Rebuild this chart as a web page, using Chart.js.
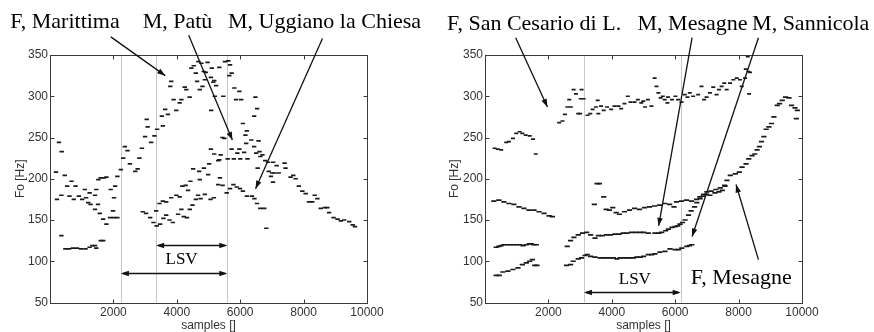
<!DOCTYPE html>
<html>
<head>
<meta charset="utf-8">
<script src="https://cdn.jsdelivr.net/npm/chart.js@4"></script>
<style>
  body { margin: 0; background: #fff; }
  #wrap { position: relative; width: 874px; height: 332px; }
  canvas { position: absolute; top: 0; }
</style>
</head>
<body>
<div id="wrap">
  <canvas id="leftChart" width="437" height="332" style="left:0"></canvas>
  <canvas id="rightChart" width="437" height="332" style="left:437px"></canvas>
</div>
<script>
// F0 tracks, [sample, Hz] per pitch frame

// left panel: Marittima / Patù / Uggiano la Chiesa
const marittima = [
  [283, 244], [369, 233], [2310, 225], [2360, 239], [2445, 234], [2520, 218], [2820, 225], [2900, 237],
  [3000, 251], [3050, 272], [3080, 263], [3190, 244], [3295, 252], [3380, 260], [3530, 276], [3560, 264],
  [3635, 284], [3720, 278], [3795, 312], [3825, 318], [3900, 296], [3985, 283], [4090, 292], [4145, 296],
  [4250, 311], [4300, 308], [4405, 299], [4460, 334], [4535, 337], [4600, 328], [4640, 318], [4680, 342],
  [4725, 308], [4775, 340], [4810, 312], [4850, 330], [4885, 320], [4915, 329], [4970, 341], [5075, 323],
  [5085, 283], [5105, 334], [5150, 317], [5180, 319], [5200, 300], [5240, 313], [5340, 335], [5467, 300],
  [5520, 342], [5625, 343], [5657, 325], [5680, 338], [5730, 328], [5816, 310], [5870, 296], [5975, 306],
  [6030, 296], [6085, 267], [6165, 253], [6210, 258], [6350, 247], [6440, 276], [6480, 299], [6535, 285]
];
const patu = [
  [190, 208], [220, 175], [360, 180], [465, 204], [540, 191], [615, 179], [680, 197], [750, 175],
  [805, 191], [910, 179], [1015, 175], [1100, 187], [1140, 177], [1205, 171], [1250, 183], [1280, 169],
  [1420, 180], [1460, 187], [1420, 163], [1515, 169], [1570, 158], [1525, 199], [1600, 201], [1705, 201],
  [1780, 202], [1915, 187], [2020, 177], [2055, 191], [2125, 203], [2235, 211], [2690, 209], [2765, 212],
  [3455, 170], [3560, 173], [3665, 172], [3825, 177], [3985, 180], [4090, 178], [4175, 191], [4280, 192],
  [4355, 186], [4430, 197], [4515, 212], [4600, 175], [4670, 180], [4705, 209], [4725, 199], [4750, 176],
  [4855, 213], [4885, 181], [4990, 205], [5020, 218], [5075, 236], [5180, 230], [5305, 222], [5340, 223],
  [5385, 229], [5440, 250], [5500, 249], [5605, 224], [5730, 236], [5800, 224], [5910, 231], [5975, 236],
  [6000, 224], [6125, 232], [6190, 243], [6230, 224], [6440, 239], [6505, 231], [6580, 246], [6610, 233],
  [6635, 227], [6700, 229], [6790, 222], [6880, 220], [7040, 220], [7150, 216], [7400, 219]
];
const uggiano = [
  [360, 131], [485, 115], [600, 115], [720, 116], [850, 116], [980, 115], [1120, 115], [1250, 117],
  [1335, 119], [1420, 119], [1460, 116], [1600, 125], [1680, 125], [1675, 151], [1780, 145], [1895, 153],
  [1990, 161], [2020, 153], [2125, 153], [2925, 160], [3030, 158], [3160, 153], [3265, 147], [3350, 161],
  [3365, 143], [3475, 145], [3580, 152], [3665, 156], [3770, 150], [3875, 147], [4040, 157], [4145, 163],
  [4220, 154], [4320, 153], [4410, 163], [4495, 168], [5065, 175], [5170, 177], [5305, 193], [5360, 201],
  [5445, 192], [5575, 183], [5680, 188], [5785, 193], [5890, 190], [5995, 188], [6085, 185], [6210, 179],
  [6370, 179], [6450, 176], [6530, 170], [6550, 213], [6635, 164], [6760, 164], [6825, 140], [6900, 209],
  [6970, 203], [7005, 207], [7035, 196], [7080, 207], [7215, 207], [7430, 213], [7590, 202], [7675, 204],
  [7750, 200], [7850, 191], [7960, 185], [8065, 182], [8170, 172], [8275, 172], [8350, 180], [8435, 176],
  [8540, 164], [8670, 165], [8750, 165], [8805, 159], [8945, 153], [9070, 151], [9175, 149], [9280, 150],
  [9440, 148], [9550, 144], [9620, 142]
];

// right panel: San Cesario di L. / Mesagne (F, M) / Sannicola
const sanCesario = [
  [300, 237], [400, 236], [511, 235], [670, 244], [755, 245], [881, 249], [987, 255], [1093, 257],
  [1177, 255], [1284, 253], [1410, 252], [1515, 248], [1601, 230], [2340, 268], [2445, 270], [2520, 278],
  [2600, 287], [2657, 296], [2710, 287], [2795, 308], [2870, 303], [2940, 279], [3000, 279], [3020, 297],
  [3047, 308], [3110, 297], [3237, 277], [3322, 279], [3395, 284], [3500, 287], [3555, 295], [3575, 279],
  [3660, 288], [3745, 283], [3850, 287], [3980, 284], [4085, 288], [4210, 288], [4295, 285], [4400, 291],
  [4505, 300], [4590, 293], [4717, 293], [4822, 296], [4930, 292], [4993, 294], [5050, 287], [5139, 296],
  [5250, 288], [5350, 322], [5410, 312], [5470, 304], [5540, 298], [5610, 300], [5668, 296], [5754, 292],
  [5773, 299], [5900, 296], [6007, 300], [6090, 296], [6198, 293], [6302, 302], [6387, 299], [6460, 304],
  [6565, 300], [6724, 302], [6831, 312], [6914, 296], [6990, 299], [7095, 304], [7200, 311], [7306, 302],
  [7380, 308], [7465, 312], [7548, 316], [7624, 308], [7730, 316], [7833, 320], [7941, 322], [8045, 320],
  [8100, 312], [8204, 322], [8226, 333], [8290, 348], [8309, 330], [8331, 303], [8362, 329]
];
const mesagneF = [
  [279, 173], [437, 174], [596, 172], [755, 170], [913, 169], [1072, 166], [1230, 164], [1388, 162],
  [1547, 162], [1706, 160], [1864, 158], [2022, 155], [2128, 154], [3449, 169], [3534, 194], [3610, 194],
  [3745, 178], [3820, 163], [3925, 162], [4030, 165], [4137, 159], [4242, 157], [4400, 160], [4558, 162],
  [4717, 164], [4875, 163], [5034, 165], [5193, 166], [5351, 167], [5510, 168], [5668, 170], [5826, 169],
  [5963, 166], [6040, 172], [6198, 173], [6357, 174], [6515, 173], [6673, 175], [6778, 178], [6883, 179],
  [6990, 181], [7095, 180], [7253, 183], [7380, 184], [7485, 186], [7570, 191], [7633, 198], [7738, 204],
  [7896, 206], [8023, 208], [8109, 214], [8236, 218], [8320, 224], [8426, 228], [8510, 230], [8585, 235],
  [8658, 239], [8722, 245], [8797, 251], [8870, 260], [8955, 263], [9038, 267], [9114, 275], [9219, 289],
  [9292, 291], [9377, 295], [9482, 299], [9590, 298], [9672, 289], [9780, 286], [9821, 273], [9853, 283]
];
const mesagneM = [
  [352, 117], [437, 118], [511, 119], [600, 120], [700, 120], [800, 120], [900, 120], [1000, 120],
  [1100, 120], [1200, 119], [1300, 120], [1400, 121], [1462, 121], [1540, 120], [1621, 120], [2594, 118],
  [2699, 125], [2805, 129], [2941, 132], [3078, 134], [3205, 135], [3333, 132], [3471, 128], [3576, 131],
  [3700, 131], [3840, 132], [3960, 132], [4100, 133], [4230, 133], [4360, 134], [4480, 134], [4620, 135],
  [4760, 135], [4890, 135], [5003, 135], [5151, 134], [5361, 134], [5480, 134], [5573, 135], [5700, 137],
  [5785, 139], [5900, 141], [5995, 142], [6080, 143], [6153, 145], [6230, 147], [6312, 150], [6420, 156],
  [6502, 161], [6610, 166], [6683, 171], [6787, 176], [6895, 181], [7000, 184], [7136, 185], [7285, 187],
  [7421, 189], [7561, 192]
];
const sannicola = [
  [352, 83], [450, 83], [564, 87], [723, 88], [881, 90], [1040, 92], [1177, 96], [1303, 98],
  [1410, 100], [1494, 102], [1570, 95], [1640, 95], [2571, 95], [2699, 96], [2783, 100], [2941, 103],
  [3047, 104], [3154, 107], [3227, 108], [3332, 106], [3471, 105], [3630, 104], [3740, 104], [3840, 104],
  [3950, 104], [4051, 104], [4160, 103], [4264, 104], [4370, 104], [4474, 104], [4580, 104], [4685, 104],
  [4790, 105], [4898, 105], [5003, 106], [5151, 108], [5260, 108], [5361, 109], [5519, 111], [5678, 112],
  [5836, 115], [5995, 114], [6100, 114], [6207, 116], [6365, 118], [6450, 119], [6524, 120]
];

// LSV limits, pointer arrows [fromX, fromY, toX, toY], spans [x1, x2, y],
// captions [text, x, baselineY, px]
const leftBounds = [2235, 3348, 5593];
const leftArrows = [[1918, 372, 3635, 325], [4376, 374, 5753, 247], [8595, 370, 6484, 188]];
const leftSpans = [[3348, 5593, 120], [2235, 5593, 86]];
const leftCaptions = [
  ["F, Marittima", -1253, 383, 22], ["M, Patù", 2922, 383, 22],
  ["M, Uggiano la Chiesa", 5616, 383, 22], ["LSV", 3644, 97, 17]
];
const rightBounds = [3122, 6174];
const rightArrows = [[967, 371, 1969, 287], [6533, 371, 5478, 143], [8626, 371, 6533, 130], [8626, 102, 7919, 193]];
const rightSpans = [[3122, 6174, 63]];
const rightCaptions = [
  ["F, San Cesario di L.", -1201, 380, 22], ["M, Mesagne", 4812, 380, 22],
  ["M, Sannicola", 8425, 380, 22], ["LSV", 4219, 72, 17], ["F, Mesagne", 6492, 72, 22]
];

function arrowHead(ctx, x1, y1, x2, y2) {
  const ang = Math.atan2(y2 - y1, x2 - x1);
  const len = 8, half = 2.8;
  const bx = x2 - len * Math.cos(ang), by = y2 - len * Math.sin(ang);
  ctx.beginPath();
  ctx.moveTo(x2, y2);
  ctx.lineTo(bx + half * Math.sin(ang), by - half * Math.cos(ang));
  ctx.lineTo(bx - half * Math.sin(ang), by + half * Math.cos(ang));
  ctx.closePath();
  ctx.fill();
}

function line(ctx, x1, y1, x2, y2) {
  ctx.beginPath();
  ctx.moveTo(x1, y1);
  ctx.lineTo(x2, y2);
  ctx.stroke();
}

// boundaries, matlab-like frame with inward ticks, arrows and captions
function markup(marks) {
  return {
    id: "markup",
    beforeDatasetsDraw(chart) {
      const { ctx, chartArea: a, scales } = chart;
      ctx.save();
      ctx.strokeStyle = "#c8c8c8";
      ctx.lineWidth = 1;
      marks.bounds.forEach((s) => {
        const x = Math.round(scales.x.getPixelForValue(s)) + 0.5;
        line(ctx, x, a.top, x, a.bottom);
      });
      ctx.restore();
    },
    afterDraw(chart) {
      const { ctx, chartArea: a, scales } = chart;
      const px = (v) => scales.x.getPixelForValue(v);
      const py = (v) => scales.y.getPixelForValue(v);
      ctx.save();

      const l = Math.round(a.left) + 0.5, r = Math.round(a.right) + 0.5;
      const t = Math.round(a.top) + 0.5, b = Math.round(a.bottom) + 0.5;
      ctx.strokeStyle = "#3a3a3a";
      ctx.lineWidth = 1;
      ctx.strokeRect(l, t, r - l, b - t);
      scales.x.ticks.forEach((tk) => {
        const x = Math.round(px(tk.value)) + 0.5;
        line(ctx, x, b, x, b - 4);
        line(ctx, x, t, x, t + 4);
      });
      scales.y.ticks.forEach((tk) => {
        const y = Math.round(py(tk.value)) + 0.5;
        line(ctx, l, y, l + 4, y);
        line(ctx, r, y, r - 4, y);
      });

      ctx.strokeStyle = "#111";
      ctx.fillStyle = "#111";
      ctx.lineWidth = 1.3;
      marks.arrows.forEach(([x1, y1, x2, y2]) => {
        const p1 = [px(x1), py(y1)], p2 = [px(x2), py(y2)];
        line(ctx, p1[0], p1[1], p2[0], p2[1]);
        arrowHead(ctx, p1[0], p1[1], p2[0], p2[1]);
      });
      marks.spans.forEach(([x1, x2, y]) => {
        const xa = px(x1), xb = px(x2), yy = Math.round(py(y)) + 0.5;
        line(ctx, xa + 2, yy, xb - 2, yy);
        arrowHead(ctx, xb, yy, xa, yy);
        arrowHead(ctx, xa, yy, xb, yy);
      });

      ctx.fillStyle = "#000";
      ctx.textBaseline = "alphabetic";
      ctx.textAlign = "left";
      marks.captions.forEach(([text, x, y, size]) => {
        ctx.font = size + 'px "Liberation Serif", "Times New Roman", serif';
        ctx.fillText(text, px(x), py(y));
      });
      ctx.restore();
    },
  };
}

const tickFont = { family: "Liberation Sans", size: 12 };

function buildChart(canvasId, series, marks, box) {
  return new Chart(document.getElementById(canvasId), {
    type: "scatter",
    data: {
      datasets: series.map((s) => ({
        label: s.name,
        data: s.points.map(([x, y]) => ({ x: x, y: y })),
        pointStyle: "line",
        pointRadius: s.dash,
        pointHoverRadius: s.dash,
        borderColor: "#1a1a1a",
        borderWidth: 1.7,
      })),
    },
    options: {
      responsive: false,
      animation: false,
      events: [],
      layout: { padding: { left: 0, top: 55, right: box.right, bottom: 0 } },
      plugins: { legend: { display: false }, tooltip: { enabled: false } },
      scales: {
        x: {
          type: "linear",
          min: 0,
          max: 10000,
          grid: { display: false, drawTicks: false },
          border: { display: false },
          ticks: {
            stepSize: 2000,
            autoSkip: false,
            maxRotation: 0,
            padding: 3,
            color: "#333",
            font: tickFont,
            callback: (v) => (v === 0 ? "" : String(v)),
          },
          title: {
            display: true,
            text: "samples []",
            color: "#333",
            font: { family: "Liberation Sans", size: 12, lineHeight: 1 },
            padding: 0,
          },
          afterFit: (scale) => { scale.height = 29.5; },
        },
        y: {
          type: "linear",
          min: 50,
          max: 350,
          grid: { display: false, drawTicks: false },
          border: { display: false },
          ticks: { stepSize: 50, padding: 2, color: "#333", font: tickFont },
          title: {
            display: true,
            text: "Fo [Hz]",
            color: "#333",
            font: { family: "Liberation Sans", size: 12 },
            padding: { top: box.yTitle, bottom: 0 },
          },
          afterFit: (scale) => { scale.width = box.yWidth; },
        },
      },
    },
    plugins: [markup(marks)],
  });
}

buildChart(
  "leftChart",
  [
    { name: "F, Marittima", points: marittima, dash: 2.2 },
    { name: "M, Patù", points: patu, dash: 2.2 },
    { name: "M, Uggiano la Chiesa", points: uggiano, dash: 2.2 },
  ],
  { bounds: leftBounds, arrows: leftArrows, spans: leftSpans, captions: leftCaptions },
  { right: 70, yWidth: 50, yTitle: 13.5 }
);

buildChart(
  "rightChart",
  [
    { name: "F, San Cesario di L.", points: sanCesario, dash: 2 },
    { name: "F, Mesagne", points: mesagneF, dash: 2.6 },
    { name: "M, Mesagne", points: mesagneM, dash: 2.6 },
    { name: "M, Sannicola", points: sannicola, dash: 2.6 },
  ],
  { bounds: rightBounds, arrows: rightArrows, spans: rightSpans, captions: rightCaptions },
  { right: 72, yWidth: 48, yTitle: 10.5 }
);
</script>
</body>
</html>
